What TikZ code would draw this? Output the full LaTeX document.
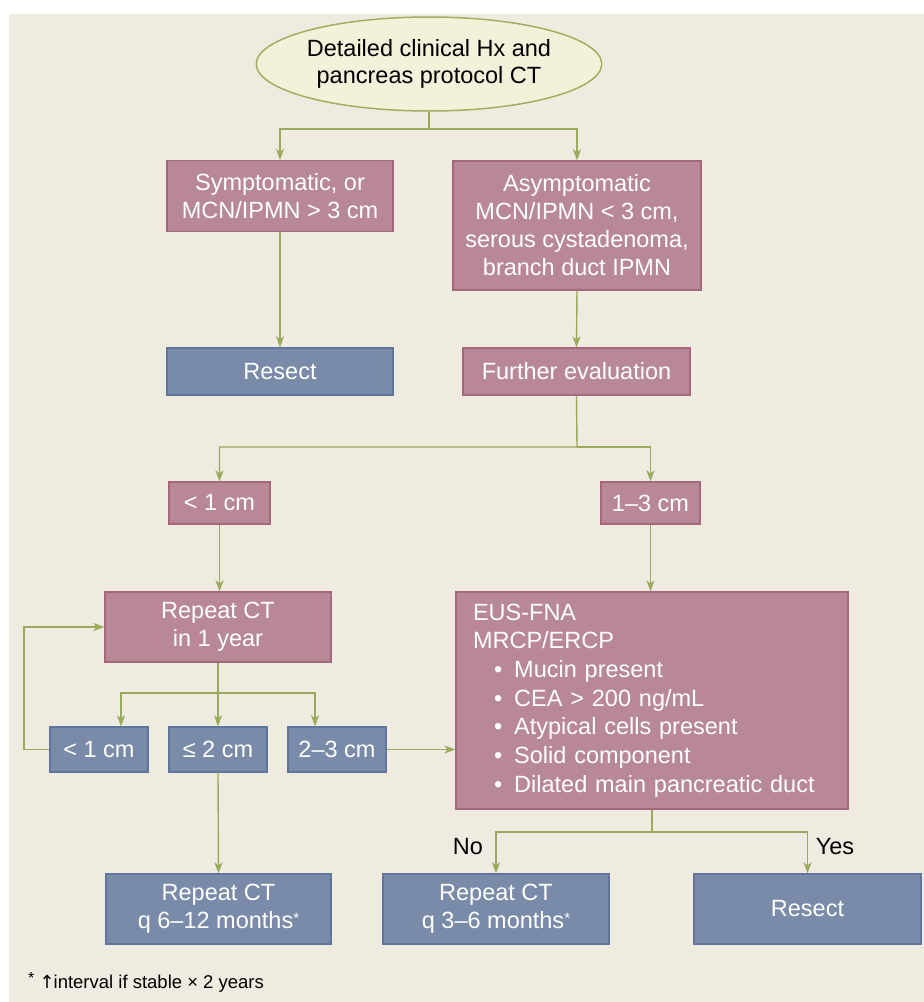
\documentclass[tikz,border=0pt]{standalone}
\usepackage{fontspec}
\setmainfont{Liberation Sans}
\newfontfamily\symfont{DejaVu Sans}
\usetikzlibrary{shapes.geometric,arrows.meta}
\definecolor{bgc}{RGB}{239,235,225}
\definecolor{pinkf}{RGB}{185,136,151}
\definecolor{pinkd}{RGB}{166,102,124}
\definecolor{bluef}{RGB}{122,139,169}
\definecolor{blued}{RGB}{94,117,156}
\definecolor{grn}{RGB}{154,170,92}
\definecolor{ellf}{RGB}{243,241,218}
\definecolor{elld}{RGB}{160,176,96}
\newcommand{\fnstar}{\raisebox{5pt}{\fontsize{15}{15}\selectfont *}}
\tikzset{
  basebox/.style={rectangle, line width=1.3pt, text=white, align=center, inner sep=0pt,
    font=\fontsize{23.5}{28}\selectfont},
  pinkbox/.style={basebox, draw=pinkd, fill=pinkf},
  bluebox/.style={basebox, draw=blued, fill=bluef},
  conn/.style={draw=grn, line width=1.4pt},
  arr/.style={conn, -{Stealth[length=11pt,width=8pt,inset=3pt]}},
  lbl/.style={font=\fontsize{23.5}{28}\selectfont, text=black, inner sep=0pt}
}
\begin{document}
\begin{tikzpicture}[x=1pt,y=-1pt]
\useasboundingbox (0,0) rectangle (924,1002);
\fill[white] (0,0) rectangle (924,1002);
\fill[bgc] (9,14) rectangle (924,1002);

\node[ellipse, draw=elld, fill=ellf, line width=1.5pt, minimum width=312pt, minimum height=94pt,
  inner sep=0pt, align=center, font=\fontsize{23.5}{27}\selectfont] (start) at (429,64)
  {Detailed clinical Hx and\\pancreas protocol CT};

\node[pinkbox, minimum width=226pt, minimum height=71pt] (sym) at (280,196)
  {Symptomatic, or\\MCN/IPMN > 3 cm};
\node[pinkbox, minimum width=248pt, minimum height=129pt] (asym) at (577,225.5)
  {Asymptomatic\\MCN/IPMN < 3 cm,\\serous cystadenoma,\\branch duct IPMN};
\node[bluebox, minimum width=226pt, minimum height=47pt] (res1) at (280,371.5) {Resect};
\node[pinkbox, minimum width=227pt, minimum height=47pt] (fur) at (576.5,371.5) {Further evaluation};
\node[pinkbox, minimum width=101pt, minimum height=42pt] (lt1) at (219.5,503) {< 1 cm};
\node[pinkbox, minimum width=99pt, minimum height=42pt] (one3) at (650.5,503) {1–3 cm};
\node[pinkbox, minimum width=226pt, minimum height=70pt] (rep1) at (218,627) {Repeat CT\\in 1 year};
\node[bluebox, minimum width=98pt, minimum height=45pt] (a) at (99,749.5) {< 1 cm};
\node[bluebox, minimum width=98pt, minimum height=45pt] (b) at (218,749.5) {≤ 2 cm};
\node[bluebox, minimum width=98pt, minimum height=45pt] (c) at (337,749.5) {2–3 cm};
\node[pinkbox, minimum width=392pt, minimum height=217pt, text width=358pt, inner xsep=17pt,
  align=left, font=\fontsize{23.5}{28.7}\selectfont] (eus) at (652,700.5)
  {EUS-FNA\\MRCP/ERCP\\
   \hspace*{21pt}\textbullet\hspace{12pt}Mucin present\\
   \hspace*{21pt}\textbullet\hspace{12pt}CEA > 200 ng/mL\\
   \hspace*{21pt}\textbullet\hspace{12pt}Atypical cells present\\
   \hspace*{21pt}\textbullet\hspace{12pt}Solid component\\
   \hspace*{21pt}\textbullet\hspace{12pt}Dilated main pancreatic duct};
\node[bluebox, minimum width=225pt, minimum height=70pt] (r612) at (218.5,909)
  {Repeat CT\\q 6–12 months\fnstar};
\node[bluebox, minimum width=226pt, minimum height=70pt] (r36) at (496,909)
  {Repeat CT\\q 3–6 months\fnstar};
\node[bluebox, minimum width=227pt, minimum height=70pt] (res2) at (807.5,909) {Resect};

\node[lbl] (no) at (468,847) {No};
\node[lbl] (yes) at (835,847) {Yes};
\node[anchor=base west, inner sep=0pt, font=\fontsize{18.5}{20}\selectfont] (foot) at (28,988)
  {\raisebox{5pt}{\fontsize{16}{16}\selectfont *} {\symfont\fontsize{18}{20}\selectfont ↑}\hspace{-1pt}interval if stable × 2 years};

\coordinate (j1) at (429,129);
\coordinate (j2) at (577,447);
\coordinate (j3) at (218,693);
\coordinate (j4) at (652,832);
\coordinate (lp) at (24,749.5);

\draw[arr] (start.south) -- (j1) -| (sym.north);
\draw[arr] (j1) -| (asym.north);
\draw[arr] (sym.south) -- (res1.north);
\draw[arr] (asym.south) -- (fur.north);
\draw[arr] (fur.south) -- (j2) -| (lt1.north);
\draw[arr] (j2) -| (one3.north);
\draw[arr] (lt1.south) -- (lt1.south |- rep1.north);
\draw[arr] (one3.south) -- (one3.south |- eus.north);
\draw[arr] (rep1.south) -- (j3) -| ([xshift=22pt]a.north);
\draw[arr] (j3) -- (b.north);
\draw[arr] (j3) -| ([xshift=-22pt]c.north);
\draw[arr] (a.west) -- (lp) |- (rep1.west);
\draw[arr] (c.east) -- (c.east -| eus.west);
\draw[arr] (b.south) -- (r612.north);
\draw[arr] (eus.south) -- (j4) -| (r36.north);
\draw[arr] (j4) -| (res2.north);
\end{tikzpicture}
\end{document}
